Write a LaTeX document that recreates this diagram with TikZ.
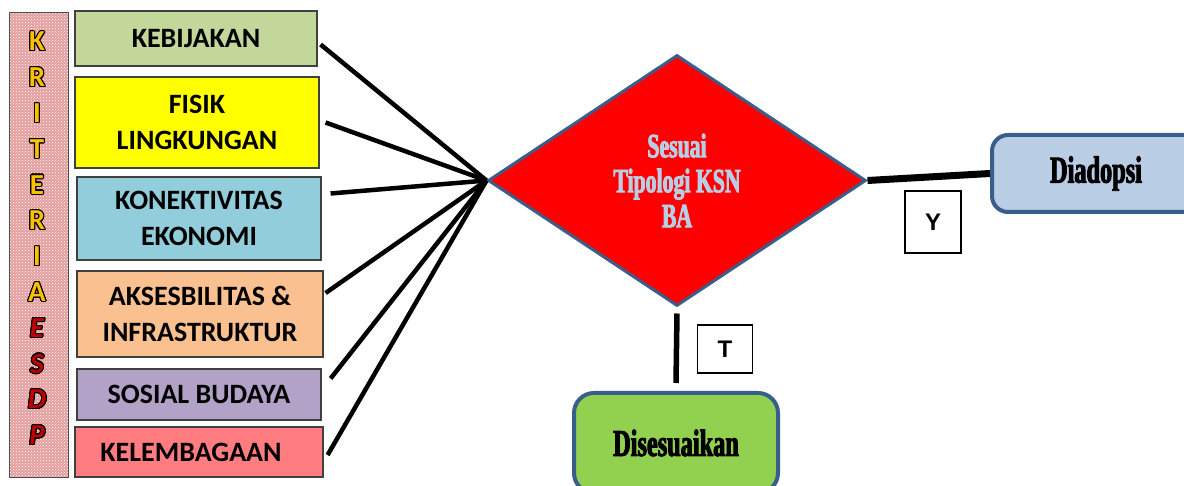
\documentclass[tikz,border=0pt]{standalone}
\usepackage{fontspec}
\setmainfont{Carlito}
\newfontfamily\condfont[FakeStretch=0.64, BoldFeatures={FakeBold=2.5}]{Liberation Serif}
\newfontfamily\arialfont{Liberation Sans}
\usepackage[copies]{contour}
\contourlength{1.1pt}
\usetikzlibrary{shapes.geometric,patterns}

\begin{document}
\begin{tikzpicture}[x=1pt,y=-1pt]
	\definecolor{hijaumuda}{RGB}{196,215,155}
	\definecolor{kuning}{RGB}{255,255,0}
	\definecolor{birumuda}{RGB}{146,205,220}
	\definecolor{jingga}{RGB}{250,192,144}
	\definecolor{ungu}{RGB}{179,162,199}
	\definecolor{merahmuda}{RGB}{255,124,128}
	\definecolor{merah}{RGB}{255,0,0}
	\definecolor{garis}{RGB}{58,94,140}
	\definecolor{biruabu}{RGB}{185,205,229}
	\definecolor{hijau}{RGB}{146,208,80}
	\definecolor{emas}{RGB}{255,192,0}
	\definecolor{merahtua}{RGB}{192,0,0}
	\definecolor{pinkpola}{RGB}{228,158,158}
	\tikzset{
		kotak/.style={draw=black!75, line width=1.2, align=center, inner sep=0,
			font={\bfseries\fontsize{28}{36}\selectfont}},
		hasil/.style={draw=garis, line width=4, rounded corners=16, fill=biruabu,
			font={\condfont\bfseries\fontsize{38}{38}\selectfont}},
		huruf/.style={font={\bfseries\fontsize{29}{29}\selectfont}, inner sep=0},
		label/.style={draw=black, line width=1.2, fill=white,
			font={\arialfont\bfseries\fontsize{24}{24}\selectfont}},
		tali/.style={black, line width=4.5}
	}
	\useasboundingbox (0,0) rectangle (1184,486);
	\clip (0,0) rectangle (1184,486);
	
	%Pita kiri
	\fill[pinkpola] (9,13) rectangle (68,477);
	\fill[pattern=crosshatch dots, pattern color=white] (9,13) rectangle (68,477);
	\draw[black!70, line width=1] (9,13) rectangle (68,477);
	\foreach \i/\h in {0/K,1/R,2/I,3/T,4/E,5/R,6/I,7/A}{
		\node[huruf] (k\i) at (37,{42+35.8*\i}) {\contour{black}{\textcolor{emas}{\h}}};
	}
	\foreach \i/\h in {8/E,9/S,10/D,11/P}{
		\node[huruf] (k\i) at (37,{42+35.8*\i}) {\contour{black}{\textcolor{merahtua}{\itshape\h}}};
	}
	
	%Kotak kriteria
	\node[kotak, fill=hijaumuda, minimum width=242, minimum height=55] (keb) at (196,38.5) {KEBIJAKAN};
	\node[kotak, fill=kuning, minimum width=244, minimum height=91] (fis) at (197,122.5) {FISIK\\LINGKUNGAN};
	\node[kotak, fill=birumuda, minimum width=244, minimum height=83] (kon) at (199,218.5) {KONEKTIVITAS\\EKONOMI};
	\node[kotak, fill=jingga, minimum width=246, minimum height=86] (aks) at (200,314) {AKSESBILITAS \&\\INFRASTRUKTUR};
	\node[kotak, fill=ungu, minimum width=244, minimum height=51] (sos) at (199,394.5) {SOSIAL BUDAYA};
	\node[kotak, fill=merahmuda, minimum width=248, minimum height=50] (kel) at (199,452) {\hspace*{-16pt}KELEMBAGAAN};
	
	%Belah ketupat
	\node[diamond, draw=garis, line width=3, fill=merah, minimum width=378, minimum height=251, inner sep=0,
		align=center, text=biruabu, font={\condfont\bfseries\fontsize{34}{35}\selectfont}] (tip) at (677,180.5)
		{Sesuai\\Tipologi KSN\\BA};
	
	%Hasil
	\node[hasil, minimum width=208, minimum height=77] (ado) at (1096,173.5) {Diadopsi};
	\node[hasil, fill=hijau, rounded corners=20, minimum width=204, minimum height=100] (ses) at (676,443) {Disesuaikan};
	\node[label, minimum width=56, minimum height=62] (ya) at (933,222) {Y};
	\node[label, minimum width=55, minimum height=48] (tdk) at (725,349) {T};
	
	%Garis
	\foreach \n/\dx/\dy in {keb/3/-6, fis/6/0, kon/9/25, aks/2/21, sos/9/16, kel/4/-3}{
		\draw[tali] ([xshift=\dx pt, yshift=\dy pt]\n.east) -- (tip.west);
	}
	\draw[black, line width=7] (tip.east) -- (ado.west);
	\draw[black, line width=5.5] ([yshift=-6pt]tip.south) -- ([yshift=8pt]ses.north);
\end{tikzpicture}
\end{document}
